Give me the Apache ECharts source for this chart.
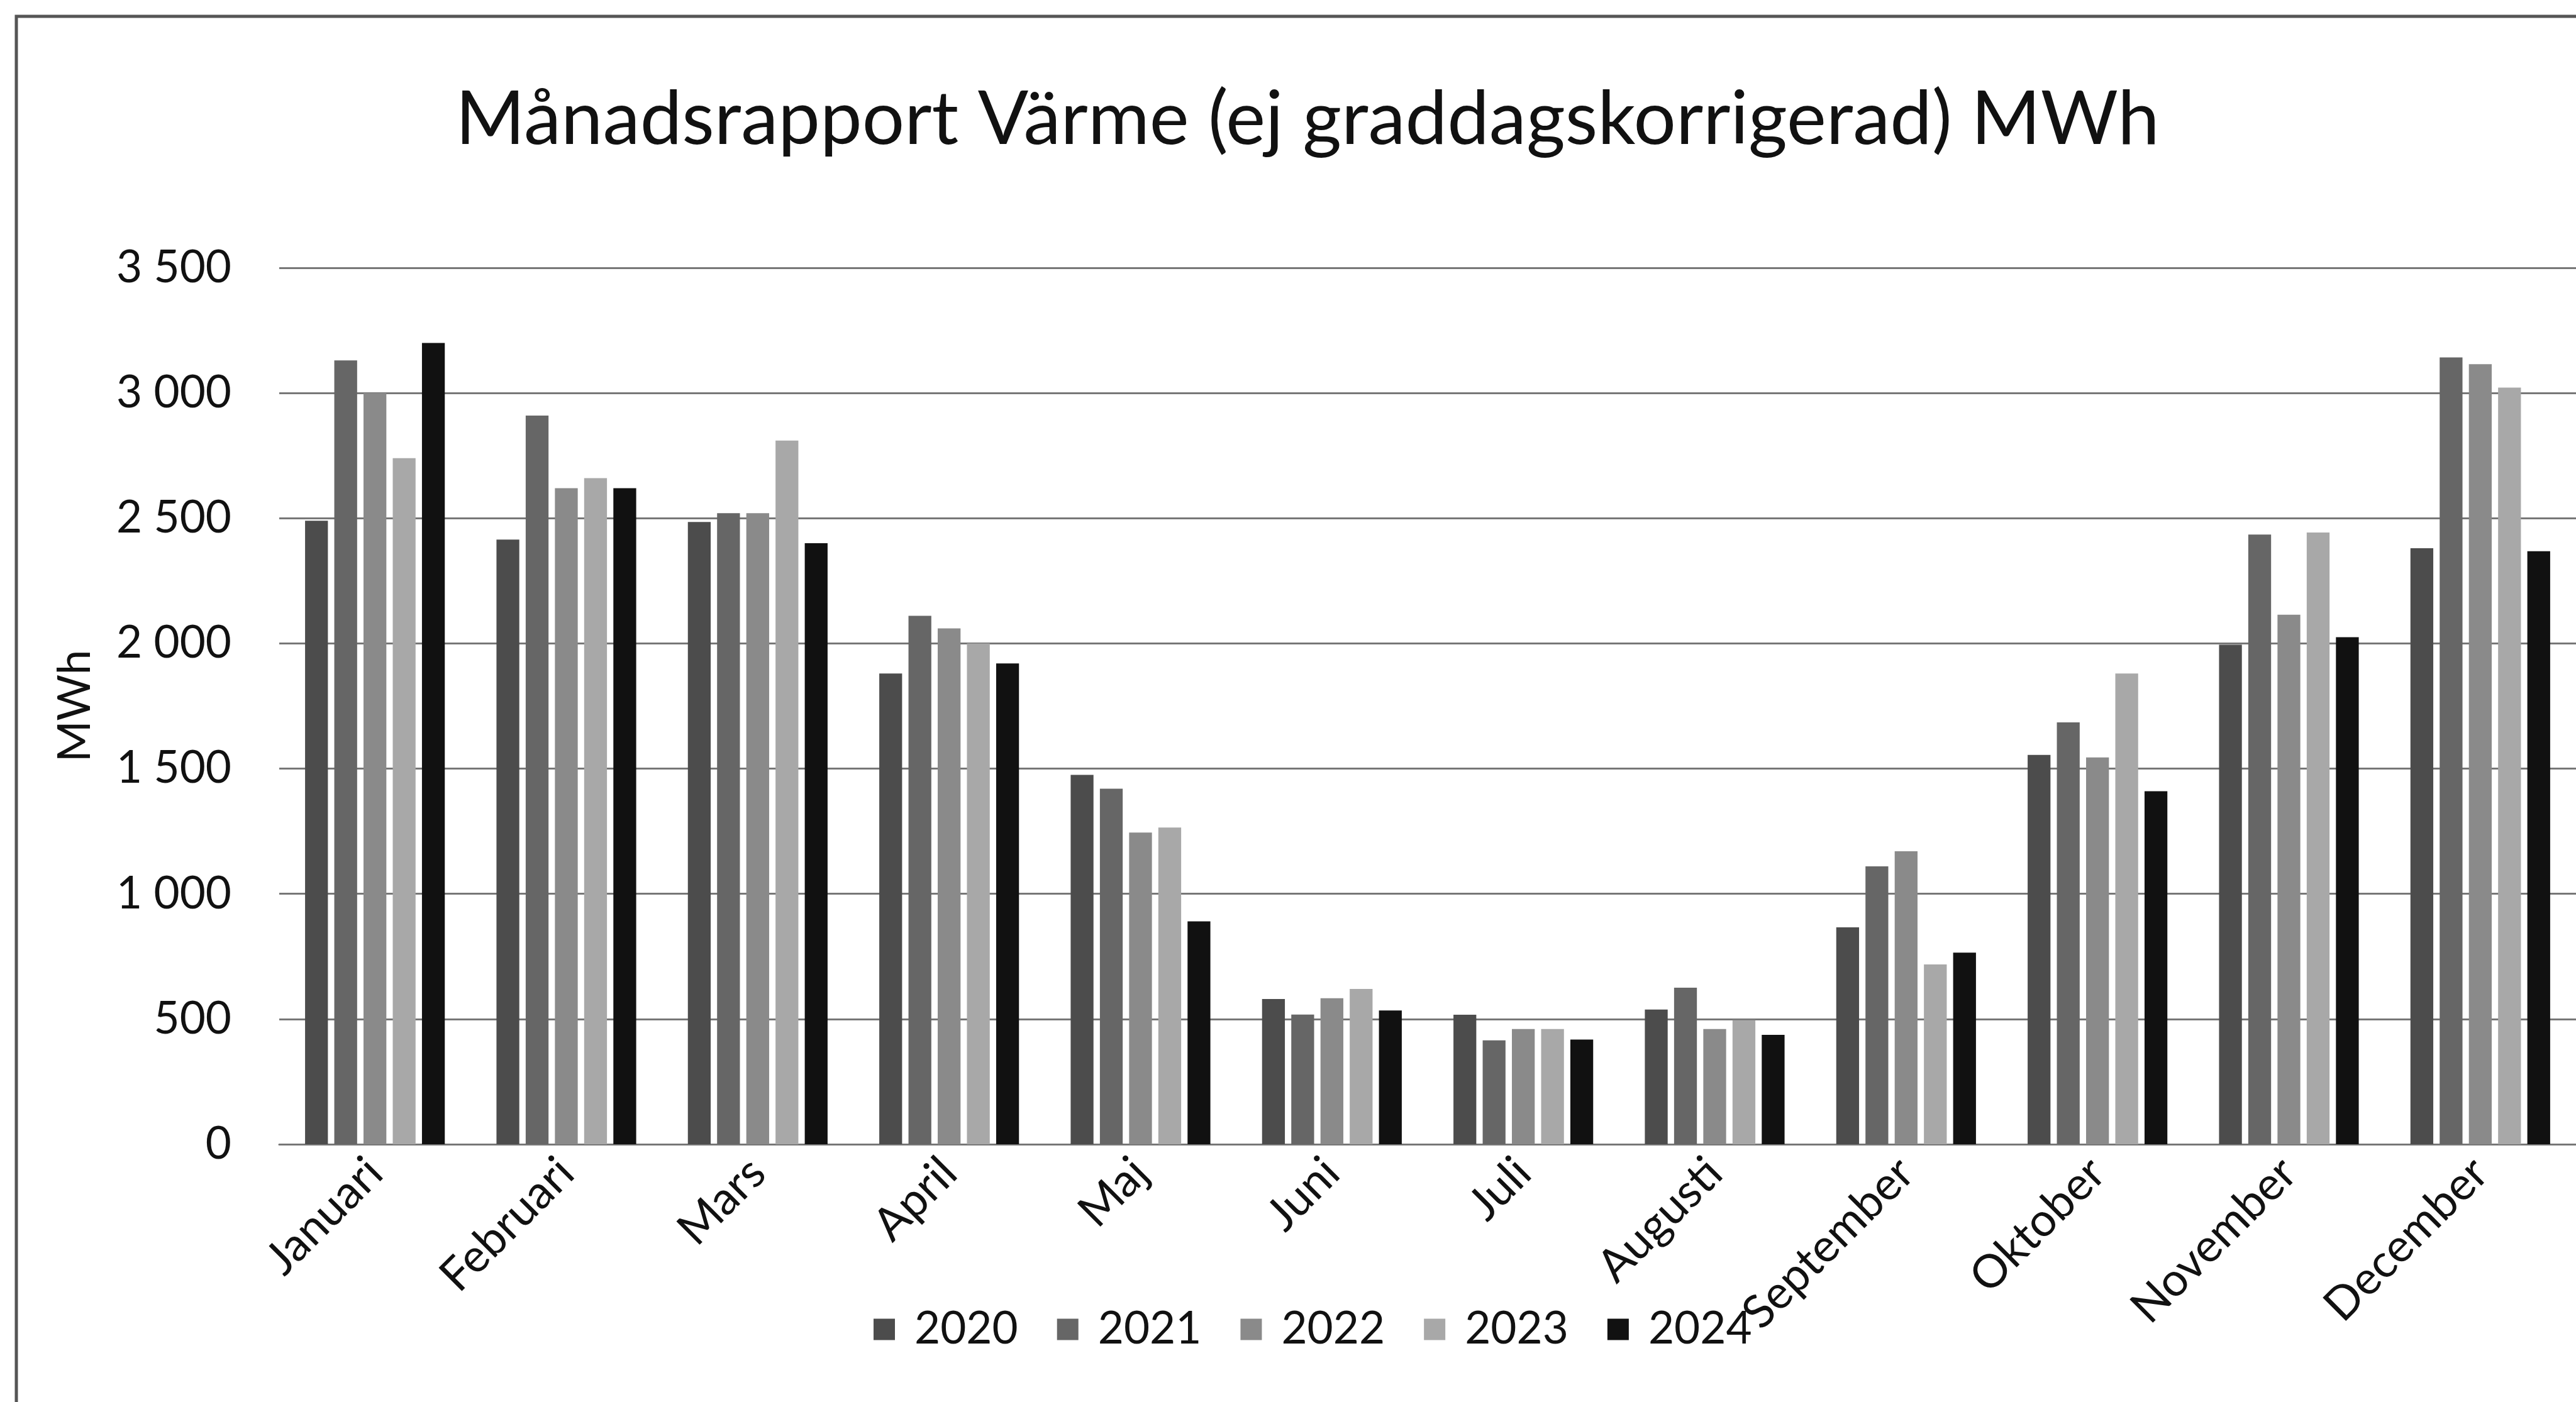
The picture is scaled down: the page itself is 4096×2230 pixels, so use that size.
<!DOCTYPE html>
<html>
<head>
<meta charset="utf-8">
<script src="https://cdn.jsdelivr.net/npm/echarts@6/dist/echarts.min.js"></script>
<style>
  html, body { margin: 0; padding: 0; background: #fff; }
  #chart { width: 4096px; height: 2230px; }
</style>
</head>
<body>
<div id="chart"></div>
<script>
// months on the x axis
const months = ["Januari", "Februari", "Mars", "April", "Maj", "Juni",
    "Juli", "Augusti", "September", "Oktober", "November", "December"];

// MWh per month, one array per year
const y2020 = [2490, 2415, 2485, 1880, 1475, 580, 517, 538, 866, 1555, 1995, 2380];
const y2021 = [3130, 2910, 2520, 2110, 1420, 518, 415, 625, 1110, 1685, 2435, 3142];
const y2022 = [3000, 2620, 2520, 2060, 1245, 583, 460, 460, 1170, 1545, 2115, 3115];
const y2023 = [2740, 2660, 2810, 2000, 1265, 620, 460, 495, 718, 1880, 2443, 3022];
const y2024 = [3200, 2620, 2400, 1920, 890, 534, 418, 437, 765, 1410, 2025, 2368];

const years = ["2020", "2021", "2022", "2023", "2024"];
const colors = ["#4c4c4c", "#666666", "#8a8a8a", "#a8a8a8", "#111111"];

const font = "Lato";
const chart = echarts.init(document.getElementById("chart"));

const makeSeries = (name, data, i) => ({
    name: name,
    type: "bar",
    data: data,
    barGap: "28%",
    barCategoryGap: "27%",
    itemStyle: { color: colors[i] },
});

chart.setOption({
    backgroundColor: "#fff",
    animation: false,
    textStyle: { fontFamily: font, color: "#111" },
    title: {
        text: "Månadsrapport Värme (ej graddagskorrigerad) MWh",
        left: 2074,
        textAlign: "center",
        top: 126,
        textStyle: { fontFamily: font, fontSize: 119, fontWeight: "normal", color: "#111" },
    },
    legend: {
        data: years,
        left: 1384,
        top: 2074,
        itemWidth: 34,
        itemHeight: 34,
        itemGap: 62,
        icon: "rect",
        textStyle: { fontFamily: font, fontSize: 71, color: "#111", padding: [0, 0, 0, 26] },
    },
    grid: {
        left: 444,
        right: -21,
        top: 426,
        bottom: 410,
    },
    xAxis: {
        type: "category",
        data: months,
        axisTick: { show: false },
        axisLine: { lineStyle: { color: "#777", width: 3 } },
        axisLabel: {
            rotate: 45,
            margin: 34,
            fontFamily: font,
            fontSize: 73,
            color: "#111",
            interval: 0,
        },
    },
    yAxis: {
        type: "value",
        min: 0,
        max: 3500,
        interval: 500,
        name: "MWh",
        nameLocation: "middle",
        nameGap: 288,
        nameRotate: 90,
        nameTextStyle: { fontFamily: font, fontSize: 71, color: "#111" },
        axisLine: { show: false },
        axisTick: { show: false },
        splitLine: { lineStyle: { color: "#777", width: 3 } },
        axisLabel: {
            margin: 76,
            fontFamily: font,
            fontSize: 71,
            color: "#111",
            formatter: (v) => String(v).replace(/\B(?=(\d{3})+(?!\d))/g, " "),
        },
    },
    graphic: [
        {
            type: "rect",
            shape: { x: 26, y: 26, width: 4200, height: 2400 },
            style: { fill: null, stroke: "#555", lineWidth: 5 },
            silent: true,
        },
    ],
    series: [
        makeSeries("2020", y2020, 0),
        makeSeries("2021", y2021, 1),
        makeSeries("2022", y2022, 2),
        makeSeries("2023", y2023, 3),
        makeSeries("2024", y2024, 4),
    ],
});
</script>
</body>
</html>
